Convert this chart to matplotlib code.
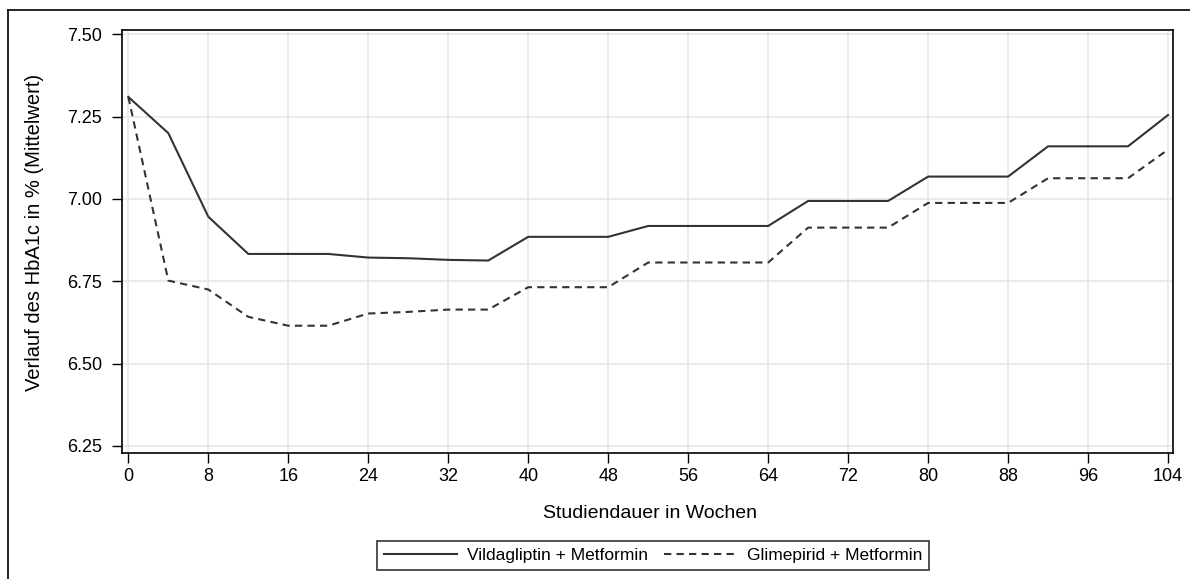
import matplotlib
matplotlib.use("Agg")
import matplotlib.pyplot as plt
from matplotlib.lines import Line2D

plt.rcParams['font.family'] = ['Liberation Sans', 'DejaVu Sans']

# study weeks and mean HbA1c values (%)
weeks = list(range(0, 105, 4))
vilda = [7.31, 7.20, 6.946, 6.833, 6.833, 6.833, 6.822, 6.82, 6.815, 6.813,
         6.885, 6.885, 6.885, 6.918, 6.918, 6.918, 6.918, 6.994, 6.994, 6.994,
         7.068, 7.068, 7.068, 7.16, 7.16, 7.16, 7.255]
glime = [7.31, 6.752, 6.725, 6.642, 6.615, 6.615, 6.652, 6.657, 6.664, 6.664,
         6.732, 6.732, 6.732, 6.807, 6.807, 6.807, 6.807, 6.913, 6.913, 6.913,
         6.988, 6.988, 6.988, 7.063, 7.063, 7.063, 7.150]
xticks = list(range(0, 105, 8))
yticks = [6.25, 6.50, 6.75, 7.00, 7.25, 7.50]

fig = plt.figure(figsize=(11.9, 5.79), dpi=100)
ax = fig.add_axes([0.1023, 0.218, 0.8832, 0.730])

ax.plot(weeks, vilda, color="#333333", lw=1.5, label="Vildagliptin + Metformin")
ax.plot(weeks, glime, color="#333333", lw=1.5, ls=(0, (3.5, 2.5)),
        label="Glimepirid + Metformin")

ax.set_xlim(-0.66, 104.47)
ax.set_ylim(6.229, 7.513)
ax.set_xticks(xticks)
ax.set_yticks(yticks)
ax.set_yticklabels([f"{v:.2f}" for v in yticks])
ax.grid(True, color="#e8e8e8", lw=1.2)
ax.set_axisbelow(True)
ax.tick_params(direction="out", length=7, width=1, labelsize=13, colors="black")
ax.tick_params(axis="y", pad=7)
ax.tick_params(axis="x", pad=4)
for s in ax.spines.values():
    s.set_linewidth(1.2)
    s.set_color("black")

fig.text(650 / 1190, 1 - 514 / 579, "Studiendauer in Wochen", ha="center",
         va="center", fontsize=14)
fig.text(35 / 1190, 1 - 232 / 579, "Verlauf des HbA1c in % (Mittelwert)",
         ha="center", va="center", rotation=90, fontsize=14.5)

leg = fig.legend(loc="center", bbox_to_anchor=(653 / 1190, 1 - 555.5 / 579), ncol=2,
                 fontsize=12.5, handlelength=4.2, frameon=True, fancybox=False,
                 edgecolor="black", borderpad=0.4, columnspacing=0.9,
                 handletextpad=0.6)
leg.get_frame().set_linewidth(1.2)

# outer frame (left and top edges visible)
fig.add_artist(Line2D([8 / 1190, 8 / 1190], [0, 1 - 10 / 579], color="black",
                      lw=1.2, transform=fig.transFigure))
fig.add_artist(Line2D([8 / 1190, 1], [1 - 10 / 579, 1 - 10 / 579], color="black",
                      lw=1.2, transform=fig.transFigure))

fig.savefig("out.png", dpi=100)
